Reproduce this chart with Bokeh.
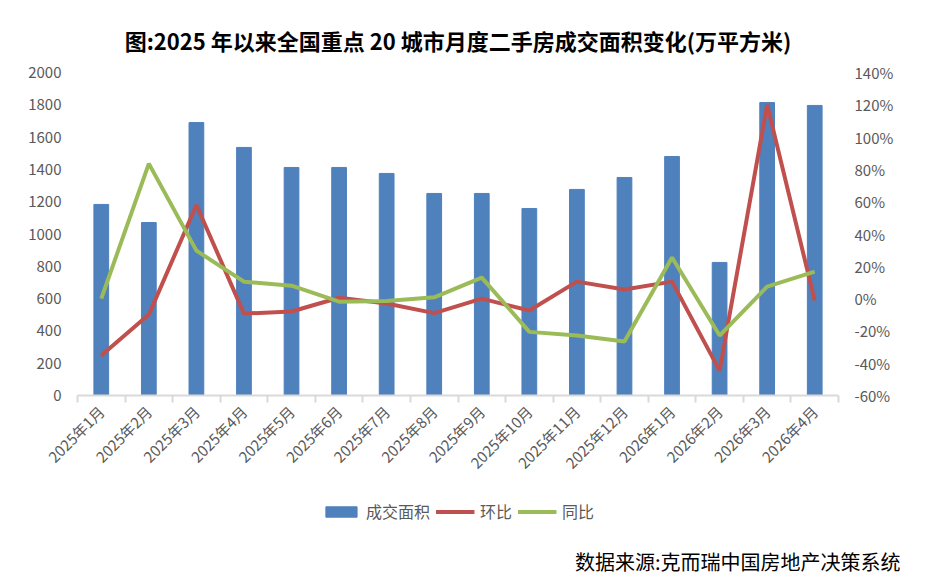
import math
from bokeh.plotting import figure
from bokeh.layouts import column
from bokeh.models import (Range1d, LinearAxis, FixedTicker, NumeralTickFormatter,
                          Legend, LegendItem, ColumnDataSource)
from bokeh.embed import file_html
from bokeh.resources import INLINE

months = ["2025年1月", "2025年2月", "2025年3月", "2025年4月", "2025年5月", "2025年6月",
          "2025年7月", "2025年8月", "2025年9月", "2025年10月", "2025年11月", "2025年12月",
          "2026年1月", "2026年2月", "2026年3月", "2026年4月"]
area = [1183, 1071, 1690, 1536, 1412, 1412, 1375, 1251, 1251, 1158, 1276, 1350,
        1480, 824, 1814, 1796]
mom = [-35.3, -9.9, 58.0, -9.3, -8.0, 0.5, -3.0, -9.0, 0.0, -7.4, 10.5, 5.6,
       10.5, -44.6, 120.0, -1.2]
yoy = [0.0, 83.6, 29.7, 10.5, 8.0, -1.9, -1.5, 0.8, 13.0, -20.6, -22.9, -26.6,
       25.4, -22.9, 7.4, 16.7]
left_ticks = [0, 200, 400, 600, 800, 1000, 1200, 1400, 1600, 1800, 2000]
right_ticks = [-0.6, -0.4, -0.2, 0.0, 0.2, 0.4, 0.6, 0.8, 1.0, 1.2, 1.4]
series_names = ["成交面积", "环比", "同比"]
source_text = "数据来源:克而瑞中国房地产决策系统"

BLUE, RED, GREEN = "#4F81BD", "#C0504D", "#9BBB59"
GRAY = "#595959"
FONT = "Noto Sans CJK SC"

idx = list(range(len(months)))
src = ColumnDataSource(dict(x=idx, area=area,
                            mom=[v / 100 for v in mom],
                            yoy=[v / 100 for v in yoy]))

xr = Range1d(-0.5, len(months) - 0.5)
p = figure(frame_width=761, frame_height=323, output_backend="svg", toolbar_location=None,
           x_range=xr, y_range=Range1d(0, 2000),
           min_border_left=77, min_border_right=94, min_border_top=72,
           min_border_bottom=95, x_axis_location=None, y_axis_location=None)
p.outline_line_color = None
p.xgrid.visible = False
p.ygrid.visible = False
p.background_fill_color = "white"
p.border_fill_color = "white"

p.extra_y_ranges = {"pct": Range1d(-0.6, 1.4)}

p.vbar(x="x", top="area", width=0.31, color=BLUE, source=src)
p.line(x="x", y="mom", y_range_name="pct", line_color=RED, line_width=4, source=src)
p.line(x="x", y="yoy", y_range_name="pct", line_color=GREEN, line_width=4, source=src)

# left axis
la = LinearAxis(ticker=FixedTicker(ticks=left_ticks))
la.axis_line_color = None
la.major_tick_line_color = None
la.minor_tick_line_color = None
la.major_label_text_font = FONT
la.major_label_text_font_size = "15px"
la.major_label_text_color = GRAY
la.major_label_standoff = 10
p.add_layout(la, "left")

# right axis
ra = LinearAxis(y_range_name="pct", ticker=FixedTicker(ticks=right_ticks),
                formatter=NumeralTickFormatter(format="0%"))
ra.axis_line_color = None
ra.major_tick_line_color = None
ra.minor_tick_line_color = None
ra.major_label_text_font = FONT
ra.major_label_text_font_size = "15px"
ra.major_label_text_color = GRAY
ra.major_label_standoff = 10
p.add_layout(ra, "right")

# bottom axis (ticks between categories, labels at centres)
xa = LinearAxis(ticker=FixedTicker(ticks=idx,
                                   minor_ticks=[i - 0.5 for i in range(len(months) + 1)]))
xa.major_label_overrides = {i: m for i, m in enumerate(months)}
xa.major_label_orientation = math.pi / 4
xa.axis_line_color = "#D9D9D9"
xa.axis_line_width = 2
xa.major_tick_line_color = None
xa.minor_tick_line_color = "#D9D9D9"
xa.minor_tick_line_width = 2
xa.minor_tick_in = 0
xa.minor_tick_out = 7
xa.major_label_text_font = FONT
xa.major_label_text_font_size = "15px"
xa.major_label_text_color = GRAY
xa.major_label_standoff = 6
p.add_layout(xa, "below")

p.title.text = "图:2025 年以来全国重点 20 城市月度二手房成交面积变化(万平方米)"
p.title.align = "center"
p.title.text_font = FONT
p.title.text_font_size = "22px"
p.title.text_font_style = "bold"
p.title.text_color = "#000000"
p.title.standoff = 34

# footer figure: legend + source note (legend-only renderers draw nothing)
f = figure(frame_width=761, frame_height=42, output_backend="svg", toolbar_location=None,
           x_range=xr, y_range=Range1d(0, 1),
           min_border_left=77, min_border_right=94, min_border_top=0,
           min_border_bottom=0, x_axis_location=None, y_axis_location=None,
           title=source_text, title_location="below")
f.outline_line_color = None
f.xgrid.visible = False
f.ygrid.visible = False
legend_src = ColumnDataSource(dict(x=[float("nan")], y=[float("nan")]))
r_bar = f.vbar(x="x", top="y", width=0.31, color=BLUE, source=legend_src)
r_mom = f.line(x="x", y="y", line_color=RED, line_width=4, source=legend_src)
r_yoy = f.line(x="x", y="y", line_color=GREEN, line_width=4, source=legend_src)

legend = Legend(items=[LegendItem(label=series_names[0], renderers=[r_bar]),
                       LegendItem(label=series_names[1], renderers=[r_mom]),
                       LegendItem(label=series_names[2], renderers=[r_yoy])],
                orientation="horizontal", location="center",
                label_text_font=FONT, label_text_font_size="16px",
                label_text_color=GRAY, border_line_color=None,
                background_fill_alpha=0, glyph_width=39, glyph_height=13,
                spacing=5, label_standoff=6, margin=0, padding=0)
f.add_layout(legend, "center")

f.title.align = "right"
f.title.offset = -62
f.title.standoff = 24
f.title.text_font = FONT
f.title.text_font_size = "20px"
f.title.text_font_style = "normal"
f.title.text_color = "#000000"

layout = column(p, f, spacing=0)
open("out.html", "w").write(file_html(layout, INLINE))
